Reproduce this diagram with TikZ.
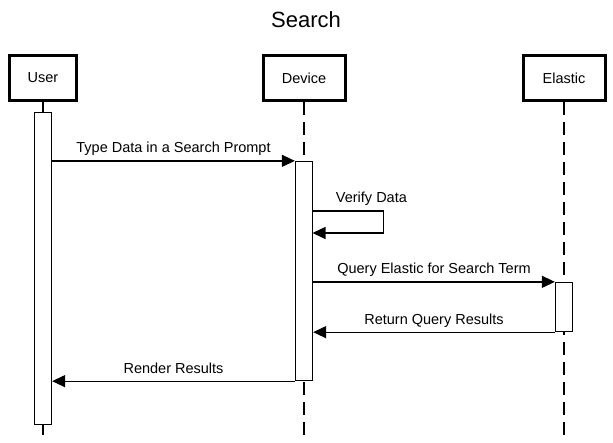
\documentclass[tikz,border=0pt]{standalone}
\usepackage{fontspec}
\setmainfont{Liberation Sans}
\usetikzlibrary{arrows.meta}

\begin{document}
\begin{tikzpicture}[x=1pt,y=-1pt,
	teilnehmer/.style={draw, line width=3pt, fill=white, minimum width=82pt, minimum height=45pt, font=\fontsize{14.5}{17}\selectfont},
	aktiv/.style={draw, line width=1.3pt, fill=white, minimum width=17pt, inner sep=0pt},
	lebenslinie/.style={line width=1.3pt, dash pattern=on 13pt off 7pt},
	nachricht/.style={line width=1.3pt, -{Triangle[length=13pt,width=12pt]}},
	beschriftung/.style={font=\fontsize{14.5}{17}\selectfont, text depth=3.5pt, inner sep=4pt}]
	
	\useasboundingbox (0,0) rectangle (613,442);
	
	%Titel
	\node[font=\fontsize{22}{26}\selectfont, anchor=base] (titel) at (306,27) {Search};
	
	%Teilnehmer-Kaesten
	\node[teilnehmer, minimum width=67pt] (user) at (43,78) {User};
	\node[teilnehmer] (device) at (304,78) {Device};
	\node[teilnehmer] (elastic) at (564,78) {Elastic};
	
	%Lebenslinien
	\coordinate (userEnde) at (43,442);
	\coordinate (deviceEnde) at (304,442);
	\coordinate (elasticEnde) at (564,442);
	\draw[lebenslinie] (user.south) -- (userEnde);
	\draw[lebenslinie] (device.south) -- (deviceEnde);
	\draw[lebenslinie] (elastic.south) -- (elasticEnde);
	
	%Aktivierungsbalken
	\node[aktiv, minimum height=312pt] (aktUser) at (43,268.5) {};
	\node[aktiv, minimum height=219pt] (aktDevice) at (304,271) {};
	\node[aktiv, minimum height=49pt] (aktElastic) at (564,307) {};
	
	%Nachrichten
	\draw[nachricht] (aktUser.east |- aktDevice.north) -- (aktDevice.north west) node[beschriftung, midway, above] {Type Data in a Search Prompt};
	
	\coordinate (pruefStart) at (312.5,211);
	\coordinate (pruefEnde) at (312.5,233);
	\draw[nachricht] (pruefStart) -- ++(71,0) node[beschriftung, pos=0.83, above] {Verify Data} |- (pruefEnde); %Selbstaufruf
	
	\draw[nachricht] (aktDevice.east |- aktElastic.north) -- (aktElastic.north west) node[beschriftung, midway, above] {Query Elastic for Search Term};
	\draw[nachricht] (aktElastic.south west) -- (aktDevice.east |- aktElastic.south) node[beschriftung, midway, above] {Return Query Results};
	\draw[nachricht] (aktDevice.south west) -- (aktUser.east |- aktDevice.south) node[beschriftung, midway, above] {Render Results};
	
\end{tikzpicture}
\end{document}
